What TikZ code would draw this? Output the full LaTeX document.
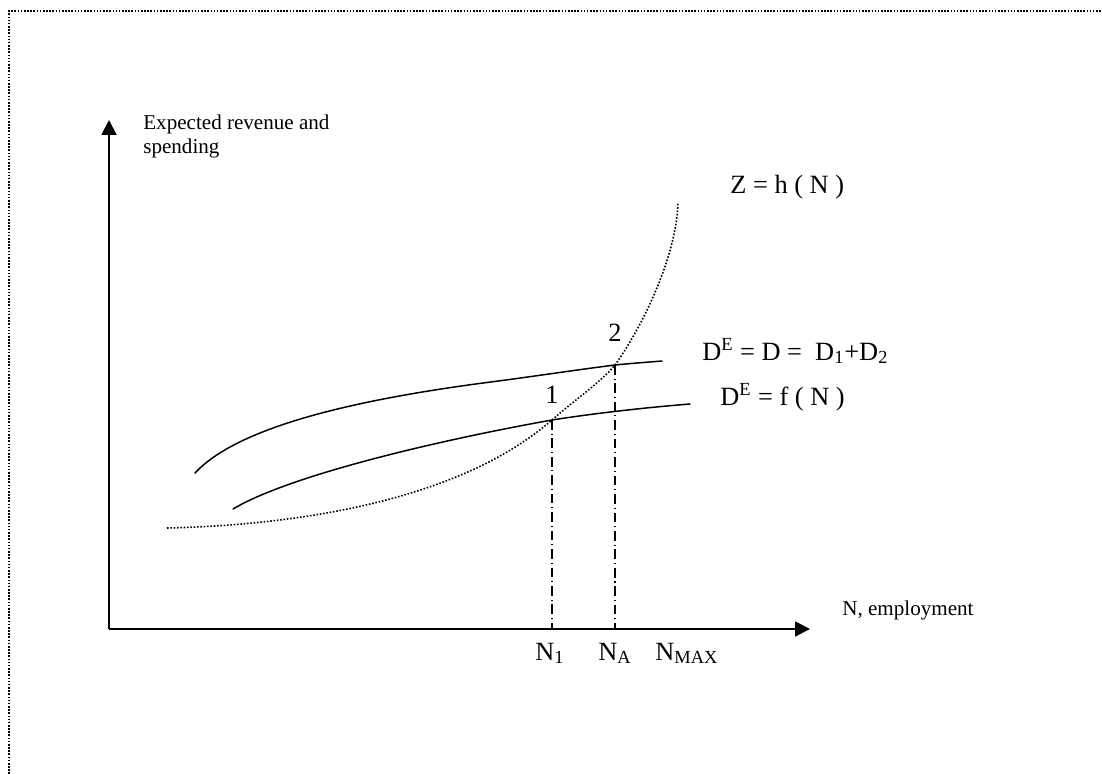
\documentclass[tikz,border=0pt]{standalone}
\usepackage{fontspec}
\setmainfont{Liberation Serif}
\usetikzlibrary{arrows.meta}

\begin{document}
\begin{tikzpicture}[x=0.02cm, y=-0.02cm,
  axis/.style={line width=1.1pt, -{Triangle[length=8.5pt,width=8.5pt]}},
  demand/.style={line width=0.85pt, line cap=round},
  supply/.style={line width=0.9pt, dash pattern=on 0.9pt off 1pt},
  guide/.style={line width=0.8pt, dash pattern=on 5.5pt off 2.2pt on 0.6pt off 2.2pt},
  small/.style={font=\fontsize{12}{13.6}\selectfont, inner sep=0pt},
  big/.style={font=\fontsize{15}{18}\selectfont, inner sep=0pt}]

\useasboundingbox (0,0) rectangle (1102,774);

% Frame
\draw[line width=0.9pt, dash pattern=on 0.9pt off 0.9pt] (9,774) -- (9,11) -- (1102,11);

% Axes
\coordinate (O) at (109,629);
\coordinate (ytip) at (109,120);
\coordinate (xtip) at (810,629);
\draw[axis] (O) -- (ytip);
\draw[axis] (O) -- (xtip);
\node[small, anchor=north west, align=left] (ylab) at (143,115)
  {Expected revenue and\\spending};
\node[small, anchor=base west] (xlab) at (842,615) {N, employment};

% Equilibrium points
\coordinate (p1) at (552,420);
\coordinate (p2) at (615,365);

% Curves
\draw[supply] (167,528) .. controls (300,525) and (460,500) .. (p1)
  .. controls (578,397) and (600,383) .. (p2)
  .. controls (640,330) and (676,260) .. (678,203);
\draw[demand] (195,473) .. controls (235,430) and (340,402) .. (483,383)
  .. controls (530,377) and (575,370) .. (p2)
  .. controls (635,363) and (650,362) .. (662,361);
\draw[demand] (233,509) .. controls (290,475) and (440,440) .. (p1)
  .. controls (590,414) and (640,408) .. (690,404);

% Guides down to the axis
\draw[guide] (p1) -- (p1 |- O);
\draw[guide] (p2) -- (p2 |- O);

% Labels
\node[big, anchor=base] (l1) at (552,403) {1};
\node[big, anchor=base] (l2) at (615,341) {2};
\node[big, anchor=base west] (zlab) at (730,193) {Z = h ( N )};
\node[big, anchor=base west] (dlab) at (702,360)
  {D\textsuperscript{E} = D = \ D\textsubscript{1}+D\textsubscript{2}};
\node[big, anchor=base west] (flab) at (720,405) {D\textsuperscript{E} = f ( N )};
\node[big, anchor=base west] (n1) at (535,660) {N\textsubscript{1}};
\node[big, anchor=base west] (na) at (598,660) {N\textsubscript{A}};
\node[big, anchor=base west] (nmax) at (655,660) {N\textsubscript{MAX}};

\end{tikzpicture}
\end{document}
